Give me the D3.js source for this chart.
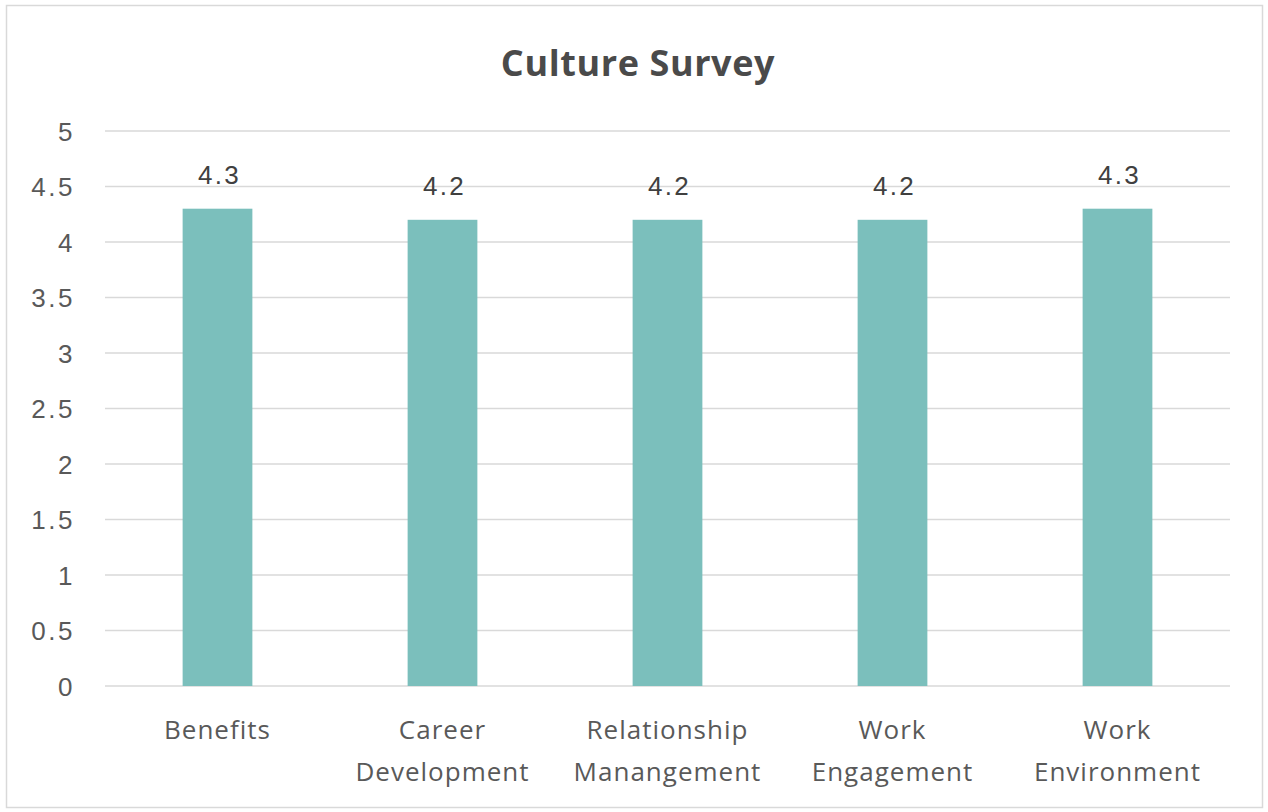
<!DOCTYPE html>
<html>
<head>
<meta charset="utf-8">
<script src="https://cdn.jsdelivr.net/npm/d3@7"></script>
<style>
  html, body { margin: 0; padding: 0; background: #ffffff; }
  svg { display: block; }
</style>
</head>
<body>
<svg id="chart" width="1268" height="812"></svg>
<script>
// Survey categories and their average scores
const categories = [["Benefits"], ["Career", "Development"], ["Relationship", "Manangement"], ["Work", "Engagement"], ["Work", "Environment"]];
const scores = [4.3, 4.2, 4.2, 4.2, 4.3];
const yTicks = [0, 0.5, 1, 1.5, 2, 2.5, 3, 3.5, 4, 4.5, 5];
const title = "Culture Survey";

const W = 1268, H = 812;
const margin = { top: 131, right: 38, bottom: 126, left: 105 };
const svg = d3.select("#chart");

// chart frame
svg.append("rect")
  .attr("x", 6.5).attr("y", 5.5)
  .attr("width", W - 12).attr("height", H - 10)
  .attr("fill", "#ffffff")
  .attr("stroke", "#d9d9d9").attr("stroke-width", 1.5);

const x = d3.scaleBand()
  .domain(d3.range(categories.length))
  .range([margin.left, W - margin.right])
  .paddingInner(0.69).paddingOuter(0.345);

const y = d3.scaleLinear().domain([0, 5]).range([H - margin.bottom, margin.top]);

// horizontal gridlines
svg.append("g")
  .selectAll("line")
  .data(yTicks)
  .join("line")
  .attr("x1", margin.left).attr("x2", W - margin.right)
  .attr("y1", d => y(d)).attr("y2", d => y(d))
  .attr("stroke", "#d9d9d9").attr("stroke-width", 1.5);

// y axis labels
const yAxis = d3.axisLeft(y).tickValues(yTicks).tickSize(0).tickPadding(0)
  .tickFormat(d3.format("~g"));
const yg = svg.append("g").attr("transform", `translate(${margin.left - 30},0)`).call(yAxis);
yg.select(".domain").remove();
yg.selectAll("text")
  .attr("dy", "0.36em")
  .attr("font-family", "'Liberation Sans', Arial, sans-serif")
  .attr("font-size", 26).attr("letter-spacing", 2.5).attr("fill", "#595959");

// bars
svg.append("g")
  .selectAll("rect")
  .data(scores)
  .join("rect")
  .attr("x", (d, i) => x(i))
  .attr("width", x.bandwidth())
  .attr("y", d => y(d))
  .attr("height", d => y(0) - y(d))
  .attr("fill", "#7bbfbc");

// value labels
svg.append("g")
  .selectAll("text")
  .data(scores)
  .join("text")
  .attr("x", (d, i) => x(i) + x.bandwidth() / 2 + 2)
  .attr("y", d => y(d) - 25)
  .attr("text-anchor", "middle")
  .attr("font-family", "'Liberation Sans', Arial, sans-serif")
  .attr("font-size", 26).attr("letter-spacing", 2.3).attr("fill", "#404040")
  .text(d => d3.format(".1f")(d));

// category labels
const cat = svg.append("g")
  .selectAll("text")
  .data(categories)
  .join("text")
  .attr("x", (d, i) => x(i) + x.bandwidth() / 2)
  .attr("y", y(0) + 53)
  .attr("text-anchor", "middle")
  .attr("font-family", "'Open Sans', sans-serif")
  .attr("font-size", 26).attr("letter-spacing", 1).attr("fill", "#595959");
cat.selectAll("tspan")
  .data(d => d)
  .join("tspan")
  .attr("x", function () { return d3.select(this.parentNode).attr("x"); })
  .attr("dy", (d, i) => i === 0 ? 0 : 42)
  .text(d => d);

// title
svg.append("text")
  .attr("x", W / 2 + 4).attr("y", 76)
  .attr("text-anchor", "middle")
  .attr("font-family", "'Open Sans', sans-serif")
  .attr("font-weight", "bold")
  .attr("font-size", 36).attr("letter-spacing", 0.6).attr("fill", "#4a4a4a")
  .text(title);
</script>
</body>
</html>
